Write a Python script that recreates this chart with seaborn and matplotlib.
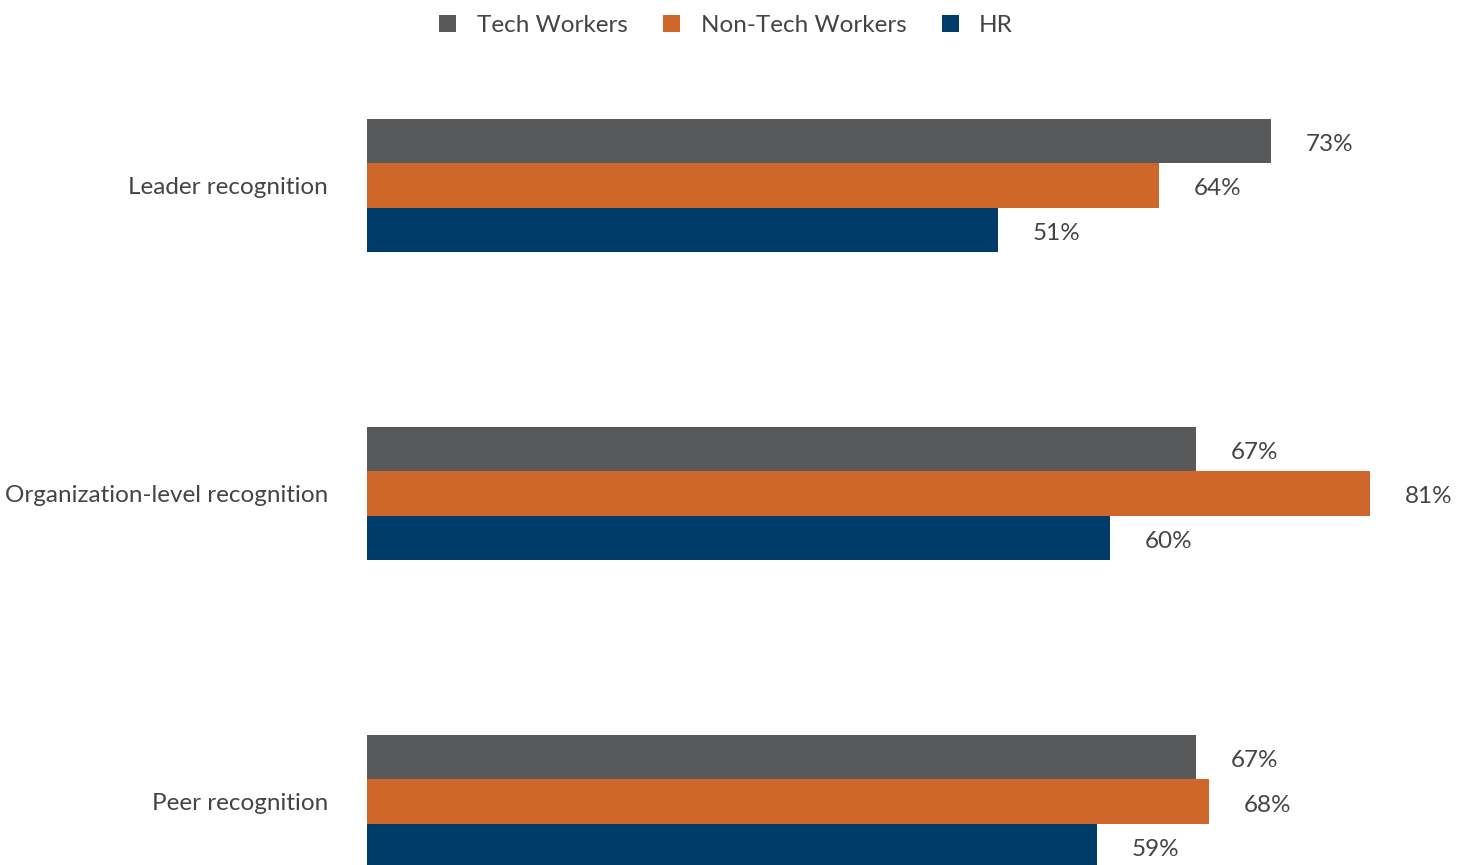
import matplotlib
matplotlib.use("Agg")
import matplotlib.pyplot as plt
import seaborn as sns
import pandas as pd
from matplotlib.patches import Patch

categories = ["Leader recognition", "Organization-level recognition", "Peer recognition"]
groups = ["Tech Workers", "Non-Tech Workers", "HR"]
tech = [73, 67, 67]
nontech = [64, 81, 68]
hr = [51, 60, 59]
colors = ["#58595B", "#D0672A", "#003C69"]

rows = []
for g, vals in zip(groups, [tech, nontech, hr]):
    for c, v in zip(categories, vals):
        rows.append({"category": c, "group": g, "value": v})
df = pd.DataFrame(rows)

sns.set_style("white")
plt.rcParams["font.family"] = ["Lato", "DejaVu Sans"]
text_color = "#444444"
fs = 17.5

fig = plt.figure(figsize=(14.61, 8.65), dpi=100)
ax = fig.add_axes([367 / 1461, 0, 1094 / 1461, 1])
sns.barplot(data=df, y="category", x="value", hue="group", order=categories,
            hue_order=groups, palette=colors, orient="h", width=0.43,
            saturation=1, linewidth=0, ax=ax, legend=False)

ax.set_xlim(0, 1094 / 12.38)
ax.set_ylim(2.206, -0.602)
ax.set_xlabel("")
ax.set_ylabel("")
ax.set_xticks([])
for s in ax.spines.values():
    s.set_visible(False)
ax.tick_params(axis="y", length=0, pad=28, labelsize=fs, labelcolor=text_color)

for cont in ax.containers:
    for bar in cont:
        w = bar.get_width()
        y = bar.get_y() + bar.get_height() / 2
        ax.annotate(f"{w:.0f}%", (w, y), xytext=(25, -2.5), textcoords="offset points",
                    ha="left", va="center", fontsize=fs, color=text_color)

handles = [Patch(facecolor=c, edgecolor="none") for c in colors]
fig.legend(handles, groups, loc="center", bbox_to_anchor=(0.497, 0.970), ncol=3,
           frameon=False, handlelength=0.7, handleheight=0.7,
           handletextpad=0.85, columnspacing=1.45, labelcolor=text_color,
           prop={"size": fs})

fig.savefig("out.png", dpi=100)
